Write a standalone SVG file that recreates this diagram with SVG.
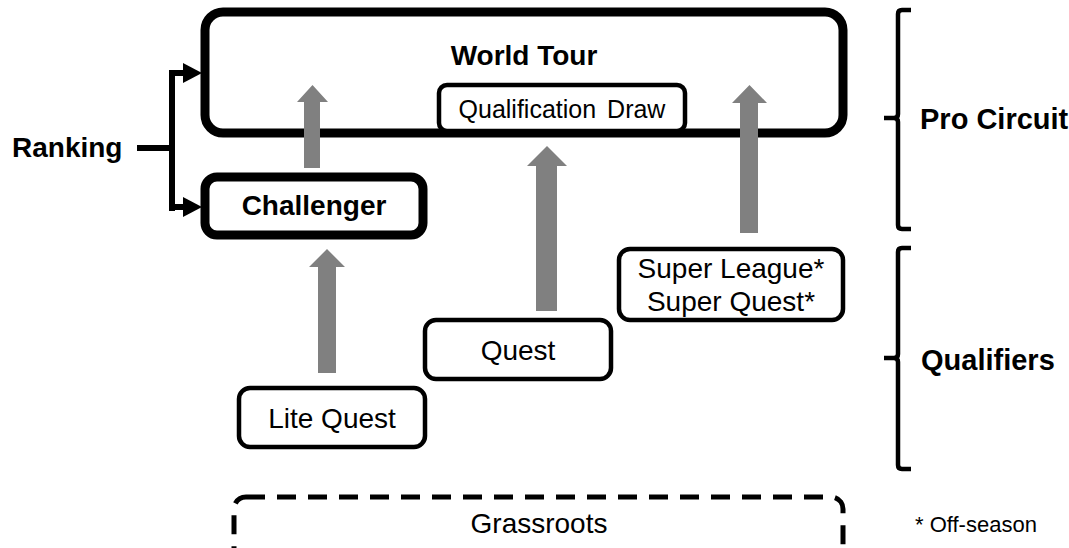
<svg xmlns="http://www.w3.org/2000/svg" width="1069" height="548" viewBox="0 0 1069 548">
<style>
.bold{font-family:"Liberation Sans",Arial,sans-serif;font-weight:bold;font-size:28px;fill:#000}
.reg{font-family:"Liberation Sans",Arial,sans-serif;font-size:28px;fill:#000}
.side{font-size:29px}
.thick{fill:#fff;stroke:#000;stroke-width:9}
.thin{fill:#fff;stroke:#000;stroke-width:4.5}
.gray{fill:#808080}
.brace{fill:none;stroke:#000;stroke-width:4.5;stroke-linejoin:round}
</style>
<rect width="1069" height="548" fill="#fff"/>
<g id="world-tour">
<rect class="thick" x="205" y="12" width="638" height="121" rx="18"/>
<text class="bold" x="524" y="65" text-anchor="middle">World Tour</text>
</g>
<g id="qualification-draw">
<rect class="thin" x="439" y="85" width="246" height="46" rx="8"/>
<text class="reg" x="562" y="118" text-anchor="middle" style="font-size:25px" word-spacing="4">Qualification Draw</text>
</g>
<g id="challenger">
<rect class="thick" x="205" y="177" width="218" height="58" rx="12"/>
<text class="bold" x="314" y="215" text-anchor="middle">Challenger</text>
</g>
<g id="lite-quest">
<rect class="thin" x="239" y="388" width="186" height="59" rx="11"/>
<text class="reg" x="332" y="428" text-anchor="middle">Lite Quest</text>
</g>
<g id="quest">
<rect class="thin" x="425" y="320" width="186" height="59" rx="11"/>
<text class="reg" x="518" y="360" text-anchor="middle">Quest</text>
</g>
<g id="super">
<rect class="thin" x="619" y="249" width="224" height="71" rx="11"/>
<text class="reg" x="731" y="278" text-anchor="middle">Super League*</text>
<text class="reg" x="731" y="311" text-anchor="middle">Super Quest*</text>
</g>
<g id="grassroots">
<rect x="234" y="497" width="609" height="90" rx="12" fill="none" stroke="#000" stroke-width="5" stroke-dasharray="19 12"/>
<text class="reg" x="539" y="533" text-anchor="middle">Grassroots</text>
</g>
<g id="ranking">
<text class="bold" x="12" y="157">Ranking</text>
</g>
<g id="connectors">
<path d="M137,148 H172 M172,71 V211 M169,73 H186 M169,207 H186" fill="none" stroke="#000" stroke-width="6"/>
<polygon points="183,63 202,73 183,83" fill="#000"/>
<polygon points="183,197 202,207 183,217" fill="#000"/>
<polygon class="gray" points="304,168 304,102 297,102 312.5,85 328,102 320,102 320,168"/>
<polygon class="gray" points="318,373 318,267 309,267 327,249 345,267 336,267 336,373"/>
<polygon class="gray" points="536,311 536,166 527,166 547,146 567,166 557,166 557,311"/>
<polygon class="gray" points="740,233 740,103 732,103 749.5,85 767,103 758,103 758,233"/>
</g>
<g id="pro-circuit">
<path class="brace" d="M911,10 H902 Q898,10 898,14 V114 Q898,118 894,118 H884 M894,118 Q898,118 898,122 V225 Q898,229 902,229 H911"/>
<text class="bold side" x="920" y="129">Pro Circuit</text>
</g>
<g id="qualifiers">
<path class="brace" d="M911,248 H902 Q898,248 898,252 V354 Q898,358 894,358 H884 M894,358 Q898,358 898,362 V465 Q898,469 902,469 H911"/>
<text class="bold side" x="921" y="370">Qualifiers</text>
</g>
<g id="note">
<text class="reg" x="915" y="532" style="font-size:22px">* Off-season</text>
</g>
</svg>
